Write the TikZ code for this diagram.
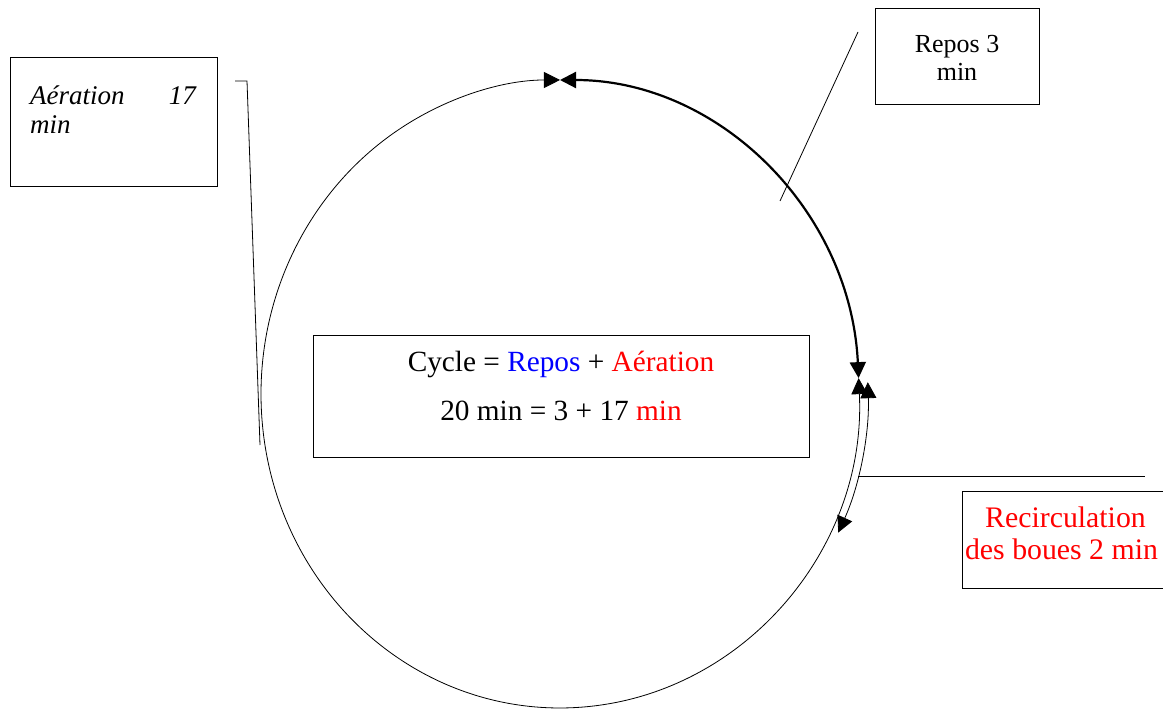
\documentclass[tikz,border=0pt]{standalone}
\usepackage{fontspec}
\setmainfont{Liberation Serif}
\usetikzlibrary{arrows.meta}
\begin{document}
\begin{tikzpicture}[x=1pt,y=1pt,
  box/.style={draw, line width=0.9pt, inner sep=0pt, outer sep=0pt, anchor=north west},
  txt/.style={inner sep=0pt, anchor=base},
  lead/.style={line width=0.8pt},
  thinarc/.style={line width=0.8pt},
  thickarc/.style={line width=2.2pt},
  tri/.tip={Triangle[width=16pt,length=16pt]},
  fsmall/.style={font=\fontsize{26}{28}\selectfont},
  fbig/.style={font=\fontsize{29.3}{32}\selectfont},
  frec/.style={font=\fontsize{29.8}{32}\selectfont},
  fital/.style={font=\fontsize{27}{30}\selectfont\itshape}]
\useasboundingbox (0,0) rectangle (1163,-709);
% boxes
\node[box, minimum width=207pt, minimum height=129pt] (aerbox) at (10,-57) {};
\node[box, minimum width=164pt, minimum height=96pt] (repbox) at (875,-8) {};
\node[box, minimum width=496pt, minimum height=122pt] (cycbox) at (313,-335) {};
\node[box, minimum width=215pt, minimum height=97pt] (recbox) at (962,-491) {};
% texts
\node[txt, fital, anchor=base west] (aer1) at (30,-104) {Aération};
\node[txt, fital, anchor=base east] (aer2) at (196,-104) {17};
\node[txt, fital, anchor=base west] (aer3) at (30,-133) {min};
\node[txt, fsmall] (rep1) at (957,-53) {Repos 3};
\node[txt, fsmall] (rep2) at (957,-81) {min};
\node[txt, fbig] (cyc1) at (561,-371) {Cycle = \textcolor{blue}{Repos} + \textcolor{red}{Aération}};
\node[txt, fbig] (cyc2) at (561,-420) {20 min = 3 + 17 \textcolor{red}{min}};
\node[txt, frec, text=red] (rec1) at (1065.5,-527) {Recirculation};
\node[txt, frec, text=red] (rec2) at (1061.5,-559) {des boues 2 min};
% circle arcs
\coordinate (top) at (560,-80);
\coordinate (right) at (858.6,-378.1);
\coordinate (recstart) at (867.8,-382.2);
\draw[thinarc, {tri}-{tri}] (right) arc[start angle=2.9, end angle=-270, x radius=299, y radius=314];
\draw[thickarc, {tri}-{tri}] (top) arc[start angle=90, end angle=2.9, x radius=299, y radius=314];
\draw[thinarc, {tri}-{tri}] (recstart) arc[start angle=2.1, end angle=-25.4, x radius=308, y radius=323];
% leader lines
\coordinate (a1) at (235,-81);
\coordinate (a2) at (247,-81);
\coordinate (a3) at (260,-445);
\draw[lead] (a1) -- (a2) -- (a3);
\coordinate (r1) at (858,-32);
\coordinate (r2) at (780,-201);
\draw[lead] (r1) -- (r2);
\coordinate (b1) at (858,-476);
\coordinate (b2) at (1145,-476);
\draw[lead] (b1) -- (b2);
\end{tikzpicture}
\end{document}
